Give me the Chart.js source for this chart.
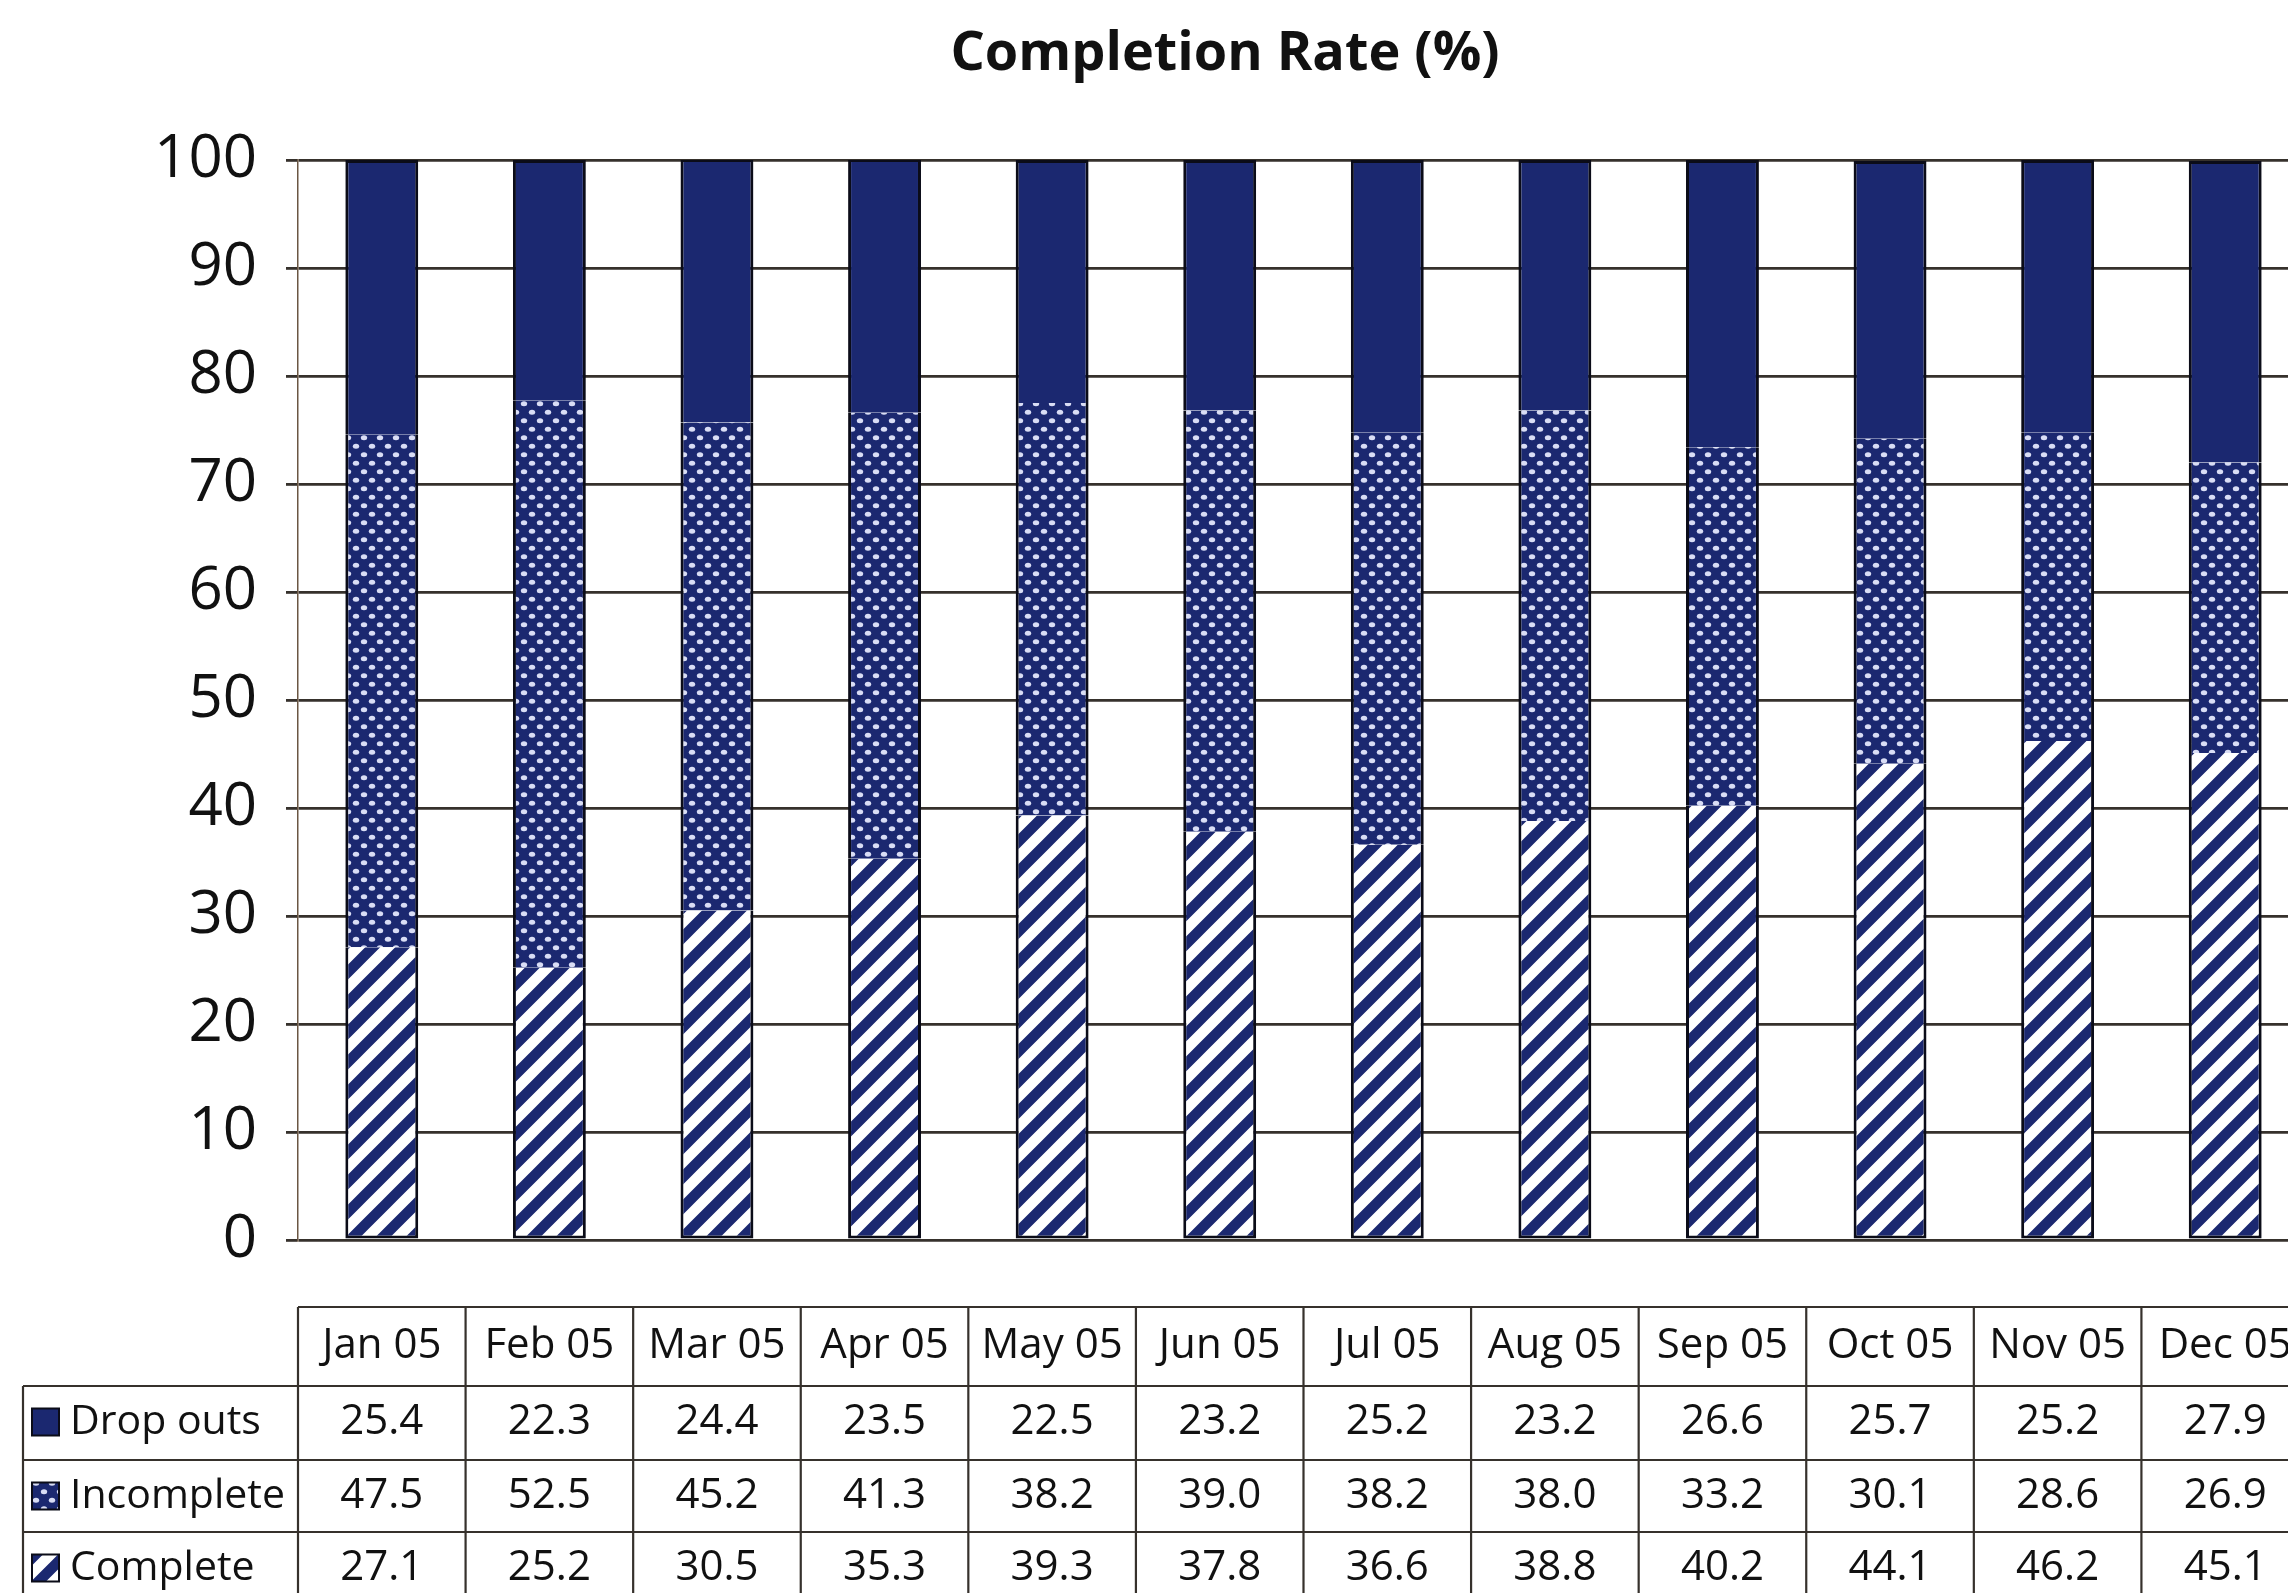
<!DOCTYPE html>
<html>
<head>
<meta charset="utf-8">
<title>Completion Rate (%)</title>
<script src="https://cdn.jsdelivr.net/npm/chart.js@4.4.1/dist/chart.umd.min.js"></script>
<style>
  html, body { margin: 0; padding: 0; background: #fff; overflow: hidden; }
  #chart { display: block; }
</style>
</head>
<body>
<canvas id="chart" width="2320" height="1593"></canvas>
<script>
// data
const months = ['Jan 05', 'Feb 05', 'Mar 05', 'Apr 05', 'May 05', 'Jun 05',
                'Jul 05', 'Aug 05', 'Sep 05', 'Oct 05', 'Nov 05', 'Dec 05'];
const dropOuts   = [25.4, 22.3, 24.4, 23.5, 22.5, 23.2, 25.2, 23.2, 26.6, 25.7, 25.2, 27.9];
const incomplete = [47.5, 52.5, 45.2, 41.3, 38.2, 39.0, 38.2, 38.0, 33.2, 30.1, 28.6, 26.9];
const complete   = [27.1, 25.2, 30.5, 35.3, 39.3, 37.8, 36.6, 38.8, 40.2, 44.1, 46.2, 45.1];
const yMin = 0, yMax = 100, yStep = 10;

const NAVY = '#1b2870';
const EDGE = '#0b0c18';
const LINE = '#36312c';

// fill patterns
function dotPattern() {
    const c = document.createElement('canvas');
    c.width = 16; c.height = 17;
    const g = c.getContext('2d');
    g.fillStyle = NAVY;
    g.fillRect(0, 0, 16, 17);
    g.fillStyle = '#d9ddf5';
    [[4, 4.25], [12, 12.75]].forEach(([x, y]) => {
        g.beginPath();
        g.ellipse(x, y, 3.2, 2.5, 0, 0, Math.PI * 2);
        g.fill();
    });
    return g.createPattern(c, 'repeat');
}

function stripePattern() {
    const s = 30;
    const c = document.createElement('canvas');
    c.width = s; c.height = s;
    const g = c.getContext('2d');
    g.fillStyle = '#fff';
    g.fillRect(0, 0, s, s);
    g.strokeStyle = NAVY;
    g.lineWidth = 10.5;
    g.beginPath();
    g.moveTo(-s / 2, s / 2); g.lineTo(s / 2, -s / 2);
    g.moveTo(0, s); g.lineTo(s, 0);
    g.moveTo(s / 2, 3 * s / 2); g.lineTo(3 * s / 2, s / 2);
    g.stroke();
    return g.createPattern(c, 'repeat');
}

const fills = {
    drop: NAVY,
    inc: dotPattern(),
    comp: stripePattern()
};

// rows of the data table under the plot (top to bottom)
const tableRows = [
    { name: 'Drop outs', values: dropOuts, fill: fills.drop },
    { name: 'Incomplete', values: incomplete, fill: fills.inc },
    { name: 'Complete', values: complete, fill: fills.comp }
];

const dataTable = {
    id: 'dataTable',
    afterDraw(chart) {
        const ctx = chart.ctx;
        const x = chart.scales.x;
        const area = chart.chartArea;
        const cw = x.getPixelForValue(1) - x.getPixelForValue(0);
        const right = chart.width;
        const headTop = area.bottom + 67;
        const rowTops = [area.bottom + 146, area.bottom + 220, area.bottom + 292];
        const rowH = 73;
        const labelLeft = 23;

        ctx.save();
        ctx.strokeStyle = LINE;
        ctx.lineWidth = 2.2;

        // header top line and column separators
        ctx.beginPath();
        ctx.moveTo(x.left, headTop);
        ctx.lineTo(right, headTop);
        for (let i = 0; i <= months.length; i++) {
            const xb = x.getPixelForValue(i) - cw / 2;
            ctx.moveTo(xb, headTop);
            ctx.lineTo(xb, chart.height);
        }
        // row lines and outer left edge
        rowTops.forEach(t => {
            ctx.moveTo(labelLeft, t);
            ctx.lineTo(right, t);
        });
        ctx.moveTo(labelLeft, rowTops[0]);
        ctx.lineTo(labelLeft, chart.height);
        ctx.stroke();

        ctx.textBaseline = 'middle';
        tableRows.forEach((row, r) => {
            const cy = rowTops[r] + rowH / 2;
            // legend key
            ctx.fillStyle = row.fill;
            ctx.fillRect(32, cy - 14, 27, 27);
            ctx.lineWidth = 2;
            ctx.strokeStyle = EDGE;
            ctx.strokeRect(32, cy - 14, 27, 27);

            ctx.fillStyle = '#111';
            ctx.font = '41px "Open Sans", sans-serif';
            ctx.textAlign = 'left';
            ctx.fillText(row.name, 70, cy);

            ctx.font = '42px "Open Sans", sans-serif';
            ctx.textAlign = 'center';
            row.values.forEach((v, i) => {
                ctx.fillText(v.toFixed(1), x.getPixelForValue(i), cy);
            });
        });
        ctx.restore();
    }
};

Chart.defaults.font.family = '"Open Sans", sans-serif';
Chart.defaults.color = '#111';

const barCommon = {
    barPercentage: 0.435,
    categoryPercentage: 1,
    borderColor: EDGE,
    borderSkipped: false
};

new Chart(document.getElementById('chart'), {
    type: 'bar',
    data: {
        labels: months,
        datasets: [
            Object.assign({
                label: 'Complete',
                data: complete,
                backgroundColor: fills.comp,
                borderWidth: { top: 0, left: 3, right: 3, bottom: 3 }
            }, barCommon),
            Object.assign({
                label: 'Incomplete',
                data: incomplete,
                backgroundColor: fills.inc,
                borderWidth: { top: 0, left: 3, right: 3, bottom: 0 }
            }, barCommon),
            Object.assign({
                label: 'Drop outs',
                data: dropOuts,
                backgroundColor: fills.drop,
                borderWidth: { top: 3, left: 3, right: 3, bottom: 0 }
            }, barCommon)
        ]
    },
    options: {
        responsive: false,
        animation: false,
        devicePixelRatio: 1,
        layout: { padding: { left: 141, right: 11, top: 0, bottom: 0 } },
        plugins: {
            legend: { display: false },
            tooltip: { enabled: false },
            title: {
                display: true,
                text: 'Completion Rate (%)',
                color: '#111',
                font: { size: 54, weight: 'bold' },
                padding: { top: 22, bottom: 73.2 }
            }
        },
        scales: {
            x: {
                stacked: true,
                // hidden tick marks used only to push the header labels down
                grid: { display: false, drawTicks: true, tickLength: 78 },
                border: { display: false },
                ticks: {
                    font: { size: 42 },
                    color: '#111',
                    padding: 3,
                    maxRotation: 0,
                    autoSkip: false
                },
                afterFit(scale) { scale.height = 353; }
            },
            y: {
                stacked: true,
                min: yMin,
                max: yMax,
                ticks: {
                    stepSize: yStep,
                    font: { size: 60 },
                    color: '#111',
                    padding: 29
                },
                grid: {
                    color: LINE,
                    lineWidth: 2.8,
                    tickLength: 12
                },
                border: { display: true, color: '#6a5643', width: 1.5 },
                afterFit(scale) { scale.width = 157; }
            }
        }
    },
    plugins: [dataTable]
});
</script>
</body>
</html>
